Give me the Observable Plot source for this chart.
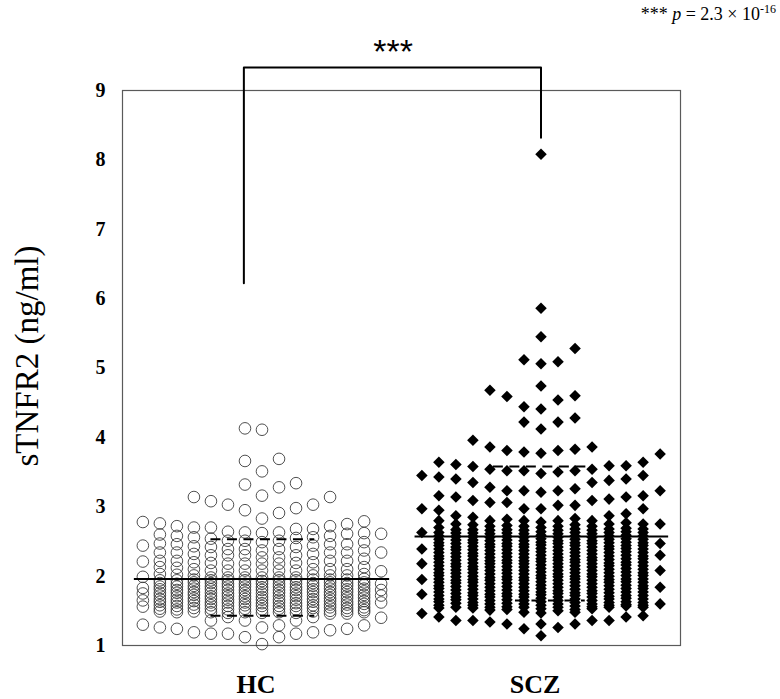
<!DOCTYPE html>
<html>
<head>
<meta charset="utf-8">
<script src="https://cdn.jsdelivr.net/npm/d3@7"></script>
<script src="https://cdn.jsdelivr.net/npm/@observablehq/plot@0.6"></script>
<style>
  html, body { margin: 0; padding: 0; background: #fff; }
  #chart { width: 780px; height: 699px; }
</style>
</head>
<body>
<div id="chart"></div>
<script>
// ---- data ----
const groups = ["HC", "SCZ"];
const yTicks = [1, 2, 3, 4, 5, 6, 7, 8, 9];
const yLabel = "sTNFR2 (ng/ml)";
const sigMark = "***";
const pText = "2.3 × 10";
const pExp = "-16";

// HC values, one list per dot column (left to right)
const hcColumns = [
  [2.78, 2.44, 2.21, 1.99, 1.83, 1.75, 1.65, 1.56, 1.30],
  [2.76, 2.60, 2.47, 2.34, 2.22, 2.13, 2.03, 1.94, 1.90, 1.85, 1.81, 1.76, 1.72, 1.67, 1.63, 1.58, 1.53, 1.49, 1.26],
  [2.72, 2.58, 2.46, 2.34, 2.22, 2.12, 2.02, 1.94, 1.89, 1.85, 1.80, 1.76, 1.71, 1.66, 1.62, 1.57, 1.52, 1.48, 1.24],
  [3.14, 2.70, 2.56, 2.43, 2.32, 2.20, 2.10, 2.01, 1.95, 1.91, 1.86, 1.82, 1.77, 1.73, 1.68, 1.64, 1.59, 1.54, 1.49, 1.19],
  [3.08, 2.70, 2.54, 2.42, 2.30, 2.19, 2.08, 1.98, 1.94, 1.90, 1.85, 1.81, 1.76, 1.71, 1.67, 1.62, 1.58, 1.53, 1.48, 1.36, 1.17],
  [3.03, 2.64, 2.51, 2.39, 2.30, 2.18, 2.08, 1.98, 1.94, 1.89, 1.85, 1.80, 1.75, 1.71, 1.66, 1.62, 1.57, 1.52, 1.47, 1.41, 1.17],
  [4.13, 3.66, 3.32, 2.95, 2.63, 2.51, 2.39, 2.30, 2.18, 2.08, 1.98, 1.94, 1.89, 1.85, 1.80, 1.76, 1.71, 1.67, 1.62, 1.58, 1.53, 1.48, 1.36, 1.12],
  [4.11, 3.51, 3.16, 2.83, 2.62, 2.49, 2.37, 2.27, 2.18, 2.08, 1.98, 1.93, 1.89, 1.84, 1.80, 1.75, 1.70, 1.66, 1.61, 1.57, 1.52, 1.47, 1.26, 1.02],
  [3.69, 3.28, 2.91, 2.63, 2.51, 2.39, 2.27, 2.18, 2.08, 1.98, 1.94, 1.89, 1.85, 1.80, 1.76, 1.71, 1.66, 1.62, 1.57, 1.53, 1.48, 1.29, 1.12],
  [3.34, 2.98, 2.68, 2.55, 2.42, 2.30, 2.19, 2.08, 1.98, 1.94, 1.89, 1.84, 1.80, 1.75, 1.71, 1.66, 1.61, 1.57, 1.52, 1.47, 1.36, 1.17],
  [3.03, 2.68, 2.56, 2.44, 2.32, 2.20, 2.10, 2.01, 1.95, 1.90, 1.86, 1.81, 1.77, 1.72, 1.67, 1.63, 1.58, 1.54, 1.49, 1.41, 1.19],
  [3.14, 2.72, 2.58, 2.46, 2.34, 2.22, 2.10, 2.01, 1.95, 1.91, 1.86, 1.82, 1.77, 1.73, 1.68, 1.64, 1.59, 1.55, 1.50, 1.46, 1.22],
  [2.75, 2.61, 2.46, 2.34, 2.22, 2.10, 2.01, 1.95, 1.90, 1.86, 1.81, 1.77, 1.72, 1.68, 1.63, 1.59, 1.54, 1.50, 1.46, 1.24],
  [2.79, 2.62, 2.49, 2.37, 2.25, 2.13, 2.03, 1.96, 1.91, 1.87, 1.82, 1.78, 1.73, 1.69, 1.64, 1.60, 1.55, 1.51, 1.48, 1.29],
  [2.61, 2.34, 2.07, 1.89, 1.80, 1.72, 1.62, 1.40]
];

// SCZ values, one list per dot column (left to right)
const sczColumns = [
  [3.45, 2.97, 2.63, 2.39, 2.18, 1.95, 1.74, 1.46],
  [3.64, 3.43, 3.16, 2.95, 2.80, 2.70, 2.63, 2.58, 2.53, 2.48, 2.44, 2.39, 2.34, 2.29, 2.25, 2.20, 2.15, 2.10, 2.05, 2.01, 1.96, 1.91, 1.86, 1.82, 1.77, 1.72, 1.67, 1.63, 1.58, 1.54, 1.41],
  [3.61, 3.40, 3.14, 2.87, 2.75, 2.67, 2.62, 2.57, 2.52, 2.47, 2.42, 2.38, 2.33, 2.28, 2.23, 2.18, 2.14, 2.09, 2.04, 1.99, 1.94, 1.90, 1.85, 1.80, 1.75, 1.70, 1.66, 1.61, 1.55, 1.36],
  [3.96, 3.58, 3.35, 3.09, 2.85, 2.74, 2.67, 2.62, 2.57, 2.52, 2.48, 2.43, 2.38, 2.33, 2.29, 2.24, 2.19, 2.14, 2.10, 2.05, 2.00, 1.95, 1.91, 1.86, 1.81, 1.76, 1.72, 1.67, 1.62, 1.58, 1.54, 1.36],
  [4.68, 3.86, 3.54, 3.28, 3.06, 2.80, 2.72, 2.66, 2.61, 2.56, 2.51, 2.46, 2.42, 2.37, 2.32, 2.27, 2.22, 2.18, 2.13, 2.08, 2.03, 1.98, 1.94, 1.89, 1.84, 1.79, 1.74, 1.70, 1.65, 1.60, 1.55, 1.51, 1.34],
  [4.59, 3.81, 3.52, 3.23, 3.06, 2.82, 2.73, 2.67, 2.62, 2.57, 2.52, 2.47, 2.43, 2.38, 2.33, 2.28, 2.23, 2.19, 2.14, 2.09, 2.04, 1.99, 1.95, 1.90, 1.85, 1.80, 1.75, 1.71, 1.66, 1.61, 1.56, 1.52, 1.31],
  [5.12, 4.44, 4.22, 3.79, 3.52, 3.23, 2.97, 2.80, 2.72, 2.66, 2.61, 2.56, 2.51, 2.46, 2.42, 2.37, 2.32, 2.27, 2.22, 2.18, 2.13, 2.08, 2.03, 1.98, 1.94, 1.89, 1.84, 1.79, 1.74, 1.70, 1.65, 1.60, 1.55, 1.48, 1.24],
  [8.08, 5.86, 5.45, 5.06, 4.74, 4.41, 4.12, 3.77, 3.48, 3.21, 2.97, 2.78, 2.70, 2.64, 2.59, 2.54, 2.49, 2.45, 2.40, 2.35, 2.30, 2.25, 2.21, 2.16, 2.11, 2.06, 2.01, 1.97, 1.92, 1.87, 1.82, 1.77, 1.73, 1.68, 1.63, 1.58, 1.53, 1.47, 1.31, 1.14],
  [5.09, 4.54, 4.22, 3.81, 3.50, 3.23, 3.02, 2.80, 2.72, 2.66, 2.61, 2.56, 2.51, 2.47, 2.42, 2.37, 2.32, 2.27, 2.23, 2.18, 2.13, 2.08, 2.03, 1.99, 1.94, 1.89, 1.84, 1.79, 1.75, 1.70, 1.65, 1.60, 1.55, 1.50, 1.26],
  [5.28, 4.60, 4.28, 3.83, 3.52, 3.26, 3.02, 2.83, 2.74, 2.68, 2.63, 2.58, 2.53, 2.48, 2.44, 2.39, 2.34, 2.29, 2.24, 2.20, 2.15, 2.10, 2.05, 2.00, 1.96, 1.91, 1.86, 1.81, 1.76, 1.72, 1.67, 1.62, 1.57, 1.52, 1.48, 1.31],
  [3.86, 3.54, 3.35, 3.09, 2.80, 2.72, 2.66, 2.61, 2.56, 2.51, 2.47, 2.42, 2.37, 2.32, 2.27, 2.23, 2.18, 2.13, 2.08, 2.03, 1.99, 1.94, 1.89, 1.84, 1.79, 1.75, 1.70, 1.65, 1.60, 1.56, 1.53, 1.36],
  [3.59, 3.38, 3.11, 2.87, 2.75, 2.68, 2.63, 2.58, 2.53, 2.48, 2.43, 2.39, 2.34, 2.29, 2.24, 2.19, 2.15, 2.10, 2.05, 2.00, 1.95, 1.91, 1.86, 1.81, 1.76, 1.71, 1.67, 1.62, 1.58, 1.55, 1.36],
  [3.59, 3.40, 3.14, 2.90, 2.77, 2.69, 2.64, 2.59, 2.54, 2.49, 2.44, 2.40, 2.35, 2.30, 2.25, 2.20, 2.16, 2.11, 2.06, 2.01, 1.96, 1.92, 1.87, 1.82, 1.77, 1.72, 1.68, 1.63, 1.59, 1.57, 1.41],
  [3.64, 3.45, 3.16, 2.97, 2.75, 2.68, 2.63, 2.58, 2.53, 2.48, 2.44, 2.39, 2.34, 2.29, 2.25, 2.20, 2.15, 2.10, 2.05, 2.01, 1.96, 1.91, 1.86, 1.82, 1.77, 1.72, 1.67, 1.62, 1.58, 1.55, 1.43],
  [3.76, 3.23, 2.75, 2.47, 2.30, 2.08, 1.84, 1.60]
];

// summary lines: value and extent in dot-column units
const summaryGroup = ["HC", "HC", "HC", "SCZ", "SCZ", "SCZ"];
const summaryValue = [1.96, 2.53, 1.43, 2.57, 3.58, 1.65];
const summaryDashed = [false, true, true, false, true, true];
const summaryFrom = [-0.5, 4, 4, -0.4, 4.2, 5.5];
const summaryTo = [14.5, 10.1, 10.1, 14.5, 9.8, 9.6];

// significance bracket (x in group units, y in ng/ml)
const bracketX = [0.435, 0.435, 1.5, 1.5];
const bracketY = [6.22, 9.33, 9.33, 8.32];

// ---- build tables ----
const colStep = 0.061;
const colX = (g, c) => groups.indexOf(g) + 0.5 + (c - 7) * colStep;

const hcPoints = [];
hcColumns.forEach((col, i) => col.forEach(v => hcPoints.push({group: "HC", col: i, value: v})));
const sczPoints = [];
sczColumns.forEach((col, i) => col.forEach(v => sczPoints.push({group: "SCZ", col: i, value: v})));

const summary = summaryValue.map((v, i) => ({
  group: summaryGroup[i], value: v, dashed: summaryDashed[i],
  x1: colX(summaryGroup[i], summaryFrom[i]), x2: colX(summaryGroup[i], summaryTo[i])
}));
const bracket = bracketX.map((x, i) => ({x, y: bracketY[i]}));

const serif = "'Liberation Serif', 'Times New Roman', serif";

const chart = Plot.plot({
  width: 780,
  height: 699,
  marginLeft: 122,
  marginRight: 100,
  marginTop: 90,
  marginBottom: 54,
  style: {fontFamily: serif, background: "#fff", color: "#000"},
  x: {domain: [0, 2]},
  y: {domain: [1, 9]},
  marks: [
    Plot.frame({stroke: "#5a5a5a", strokeWidth: 1.2}),
    Plot.dot(hcPoints, {x: d => colX(d.group, d.col), y: "value", r: 5.8, stroke: "#3c3c3c", strokeWidth: 0.9, fill: "none"}),
    Plot.dot(sczPoints, {x: d => colX(d.group, d.col), y: "value", symbol: "diamond2", r: 5.2, fill: "#000", stroke: "none"}),
    Plot.ruleY(summary.filter(d => !d.dashed), {y: "value", x1: "x1", x2: "x2", stroke: "#000", strokeWidth: 2}),
    Plot.ruleY(summary.filter(d => d.dashed), {y: "value", x1: "x1", x2: "x2", stroke: "#000", strokeWidth: 2, strokeDasharray: "10,6.5"}),
    Plot.line(bracket, {x: "x", y: "y", stroke: "#000", strokeWidth: 2}),
    Plot.text([{x: 0.97, y: 9.56, t: sigMark}], {x: "x", y: "y", text: "t", fontFamily: "'Liberation Sans', Arial, sans-serif", fontSize: 34, fill: "#000"}),
    Plot.axisY({ticks: yTicks, tickSize: 0, tickPadding: 17, fontSize: 20, fontWeight: "bold", label: null, tickFormat: d => String(d)}),
    Plot.axisX({ticks: [0.5, 1.5], tickFormat: d => groups[Math.floor(d)], tickSize: 0, tickPadding: 29, fontSize: 26, fontWeight: "bold", label: null, dx: -6}),
    Plot.text([yLabel], {frameAnchor: "left", text: d => d, rotate: -90, textAnchor: "middle", dx: -95, dy: -12, fontSize: 33, fontFamily: serif, fill: "#000"})
  ]
});

document.getElementById("chart").appendChild(chart);

// p-value annotation (top right)
const svg = d3.select(chart);
const t = svg.append("text")
  .attr("x", 776).attr("y", 20)
  .attr("text-anchor", "end")
  .attr("font-family", serif)
  .attr("font-size", 18)
  .attr("fill", "#000");
t.append("tspan").text(sigMark + " ");
t.append("tspan").attr("font-style", "italic").text("p");
t.append("tspan").text(" = " + pText);
t.append("tspan").attr("font-size", 12).attr("dy", -7).text(pExp);
</script>
</body>
</html>
